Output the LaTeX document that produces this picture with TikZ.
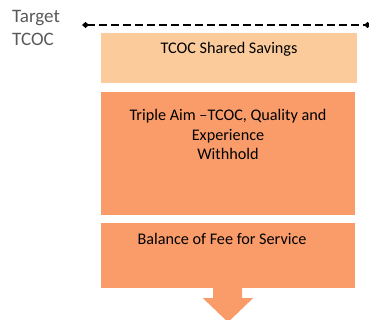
\documentclass[tikz,border=0pt]{standalone}
\usepackage{fontspec}
\setmainfont{Carlito}
\usetikzlibrary{positioning,arrows.meta}
\definecolor{peachlight}{HTML}{FBCB9B}
\definecolor{peachdark}{HTML}{F99C6A}
\definecolor{labelgray}{HTML}{595959}
\begin{document}
\begin{tikzpicture}[x=1pt, y=-1pt]

        % Define custom styles for boxes and texts
        \tikzset{
          lightbox/.style={rectangle, fill=peachlight, minimum width=256pt, minimum height=50pt, inner sep=0pt},
          darkbox/.style={rectangle, fill=peachdark, minimum width=254pt, inner sep=0pt},
          boxtext/.style={anchor=base, inner sep=0pt, align=center, font=\fontsize{16.2}{19.5}\selectfont},
          sidetext/.style={anchor=base west, inner sep=0pt, text=labelgray, font=\fontsize{19}{23}\selectfont}
        }

        \useasboundingbox (0,0) rectangle (369,320);

        % Boxes stacked top to bottom
        \node[lightbox] (shared) at (229,58) {};
        \node[darkbox, minimum height=123pt] (triple) at (228,153.5) {};
        \node[darkbox, minimum height=65pt] (fee) at (228,255.5) {};

        % Texts inside the boxes
        \node[boxtext] (sharedtext) at (229,54) {TCOC Shared Savings};
        \node[boxtext] (tripletext1) at (228,121) {Triple Aim –TCOC, Quality and};
        \node[boxtext] (tripletext2) at (228,140.5) {Experience};
        \node[boxtext] (tripletext3) at (228,160) {Withhold};
        \node[boxtext] (feetext) at (222,244) {Balance of Fee for Service};

        % Target label and dashed line
        \node[sidetext] (target) at (12,23) {Target};
        \node[sidetext] (tcoc) at (12,46) {TCOC};
        \coordinate (lineleft) at (82,25);
        \coordinate (lineright) at (371,25);
        \draw[line width=1.8pt, dash pattern=on 7.5pt off 4.5pt,
              {Diamond[length=7pt, width=6pt, line width=0pt]}-{Diamond[length=7pt, width=6pt, line width=0pt]}]
              (lineleft) -- (lineright);

        % Down arrow below the last box
        \fill[peachdark] (fee.south) ++(-15,0) -- ++(0,10) -- ++(-10,0) -- ++(25,24)
              -- ++(25,-24) -- ++(-11,0) -- ++(0,-10) -- cycle;

\end{tikzpicture}
\end{document}
